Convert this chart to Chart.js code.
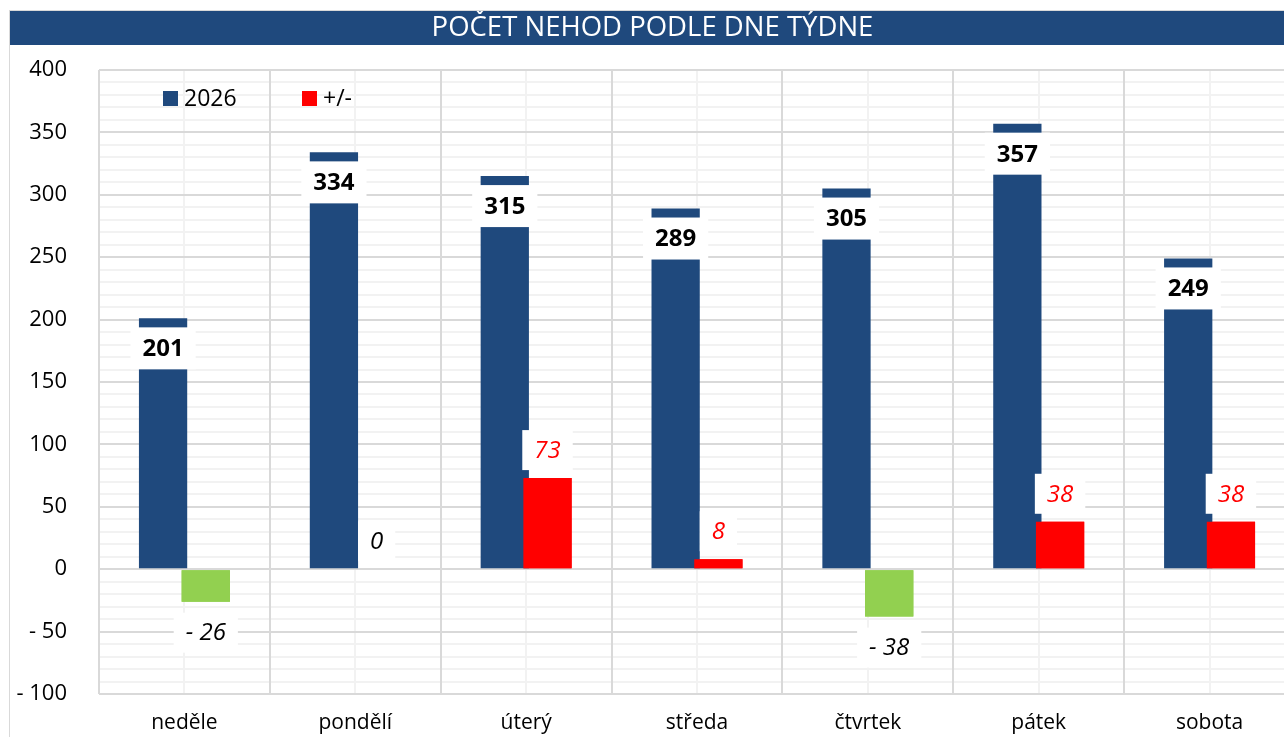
<!DOCTYPE html>
<html><head><meta charset="utf-8">
<script src="https://cdn.jsdelivr.net/npm/chart.js@4"></script>
<style>
html,body{margin:0;padding:0;background:#fff;overflow:hidden;width:1284px;height:737px}
#wrap{position:absolute;left:9px;top:10px;width:1290px;height:730px;border:1px solid #d9d9d9;border-bottom:none}
canvas{display:block}
</style></head><body>
<div id="wrap"><canvas id="c"></canvas></div>
<script>
const chartTitle = 'POČET NEHOD PODLE DNE TÝDNE';
const categories = ['neděle','pondělí','úterý','středa','čtvrtek','pátek','sobota'];
const seriesNames = ['2026','+/-'];
const values2026 = [201,334,315,289,305,357,249];
const valuesDiff = [-26,0,73,8,-38,38,38];
const yMin = -100, yMax = 400, yStep = 50, yMinorStep = 10;

const BLUE = '#1F497D', RED = '#FF0000', GREEN = '#92D050';
const FONT = "'Open Sans', sans-serif";
Chart.defaults.font.family = FONT;

function fmt(v){ return v < 0 ? '- ' + Math.abs(v) : String(v); }

const titleBar = {
  id: 'titleBar',
  beforeDraw(chart){
    const ctx = chart.ctx;
    ctx.save();
    ctx.fillStyle = BLUE;
    ctx.fillRect(0, 0, chart.width, 34);
    ctx.restore();
  }
};

function labelBox(ctx, text, x, y, h){
  const w = ctx.measureText(text).width + 24;
  ctx.fillStyle = '#fff';
  ctx.fillRect(x - w/2, y - h/2, w, h);
}

const labelsPlugin = {
  id: 'labelsPlugin',
  afterDatasetsDraw(chart){
    const ctx = chart.ctx;
    const m0 = chart.getDatasetMeta(0), m1 = chart.getDatasetMeta(1);
    // right-hand series drawn on top of the left one
    ctx.save();
    m1.controller.draw();
    ctx.restore();

    ctx.save();
    ctx.textAlign = 'center';
    ctx.textBaseline = 'middle';
    // 2026 labels
    ctx.font = 'bold 24px ' + FONT;
    m0.data.forEach((el, i) => {
      const t = fmt(values2026[i]);
      const cy = el.y + 30;
      labelBox(ctx, t, el.x, cy, 42);
      ctx.fillStyle = '#000';
      ctx.fillText(t, el.x, cy + 1);
    });
    // +/- labels
    ctx.font = 'italic 24px ' + FONT;
    m1.data.forEach((el, i) => {
      const v = valuesDiff[i];
      const t = fmt(v);
      const cy = v < 0 ? el.y + 31 : el.y - 28;
      labelBox(ctx, t, el.x, cy, 40);
      ctx.fillStyle = v > 0 ? RED : '#000';
      ctx.fillText(t, el.x, cy + 1);
    });
    // legend
    const a = chart.chartArea;
    ctx.font = '23px ' + FONT;
    ctx.textAlign = 'left';
    const items = [{c: BLUE, dx: 64}, {c: RED, dx: 203}];
    items.forEach((it, k) => {
      ctx.fillStyle = it.c;
      ctx.fillRect(a.left + it.dx, a.top + 21, 15, 15);
      ctx.fillStyle = '#000';
      ctx.fillText(seriesNames[k], a.left + it.dx + 21, a.top + 29);
    });
    ctx.restore();
  }
};

new Chart(document.getElementById('c'), {
  type: 'bar',
  data: {
    labels: categories,
    datasets: [
      { label: seriesNames[0], data: values2026, backgroundColor: BLUE, borderWidth: 0,
        categoryPercentage: 0.5, barPercentage: 1.13 },
      { label: seriesNames[1], data: valuesDiff, borderWidth: 0,
        backgroundColor: c => (c.raw < 0 ? GREEN : RED),
        categoryPercentage: 0.5, barPercentage: 1.13 }
    ]
  },
  options: {
    responsive: true,
    maintainAspectRatio: false,
    animation: false,
    layout: { padding: { left: 0, right: 5, top: 0, bottom: 0 } },
    plugins: {
      legend: { display: false },
      tooltip: { enabled: false },
      title: {
        display: true, text: chartTitle, color: '#fff',
        font: { size: 27.5, weight: 'normal', lineHeight: 1.2 },
        padding: { top: 0.5, bottom: 25.5 }
      }
    },
    scales: {
      xMinor: {
        type: 'category', position: 'bottom', offset: true, z: -1,
        grid: { offset: false, color: '#f2f2f2', lineWidth: 2, drawTicks: false },
        ticks: { display: false }, border: { display: false },
        afterFit: s => { s.height = 0; }
      },
      yMinor: {
        type: 'linear', position: 'left', min: yMin, max: yMax, z: -1,
        grid: { color: '#f2f2f2', lineWidth: 2, drawTicks: false },
        ticks: { display: false, stepSize: yMinorStep }, border: { display: false },
        afterFit: s => { s.width = 0; }
      },
      x: {
        type: 'category', position: 'bottom', offset: true,
        grid: { offset: true, color: '#d9d9d9', lineWidth: 2, drawTicks: false },
        border: { display: false },
        ticks: { color: '#000', font: { size: 21 }, padding: 16, maxRotation: 0 },
        afterFit: s => { s.height = 47; }
      },
      y: {
        type: 'linear', position: 'left', min: yMin, max: yMax,
        grid: { color: '#d9d9d9', lineWidth: 2, drawTicks: false },
        border: { display: false },
        ticks: { stepSize: yStep, color: '#000', font: { size: 22 }, padding: 32,
                 callback: v => fmt(v) },
        afterFit: s => { s.width = 89; }
      }
    }
  },
  plugins: [titleBar, labelsPlugin]
});
</script>
</body></html>
